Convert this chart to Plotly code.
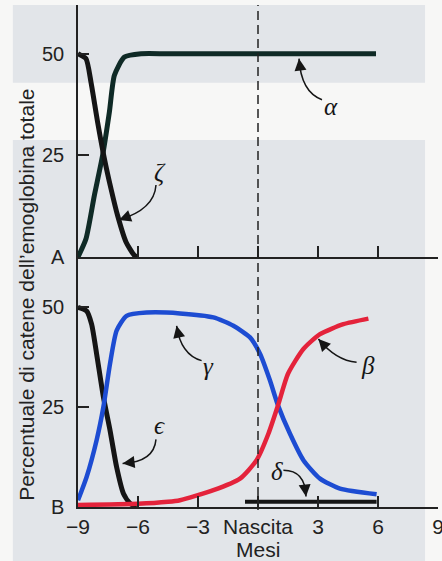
import plotly.graph_objects as go

# ---------------- data ----------------
# Panel A (top)
alpha_months = [-9, -8.6, -8.18, -7.77, -7.43, -7.18, -6.68, -5.85, -4.5, 0, 3, 5.9]
alpha_values = [0, 4.5, 15.2, 25, 35.7, 44.7, 49.2, 50, 50, 50, 50, 50]

zeta_months = [-9, -8.6, -8.35, -8.02, -7.68, -7.35, -7.02, -6.6, -6.18, -6.0]
zeta_values = [50, 48.8, 43, 33.2, 24.2, 16.8, 10.2, 3.7, 0.4, 0]

# Panel B (bottom)
epsilon_months = [-9, -8.57, -8.32, -8.07, -7.73, -7.4, -7.07, -6.73, -6.4, -6.07]
epsilon_values = [49.9, 49, 45.7, 38.3, 27.5, 19.2, 10, 3.4, 0.9, 0]

gamma_months = [-9, -8.57, -8.07, -7.73, -7.4, -7.07, -6.57, -5.57, -3.9, -2.23,
                -1.23, -0.4, 0.1, 0.6, 1.0, 1.6, 2.27, 3.1, 4.1, 5.93]
gamma_values = [1.7, 7.5, 16.7, 25, 35.8, 44.1, 47.8, 48.6, 48.4, 47.4,
                45.3, 42.4, 38.3, 31.6, 25.4, 18.3, 11.7, 7.1, 4.6, 3.2]

beta_months = [-9, -6, -4.5, -3.9, -2.23, -0.9, -0.07, 0.52, 1.0, 1.5, 2.27, 3.1, 4.27, 5.52]
beta_values = [0.5, 0.8, 1.3, 1.7, 4.2, 7.1, 11.7, 18.3, 25.4, 33.3, 39.5, 43.2, 45.7, 47.1]

delta_months = [-0.65, 5.93]
delta_values = [1.3, 1.3]

x_tickvals = [-9, -6, -3, 0, 3, 6, 9]
x_ticktext = ["\u22129", "\u22126", "\u22123", "Nascita", "3", "6", "9"]
y_tickvals = [0, 25, 50]
yA_ticktext = ["A", "25", "50"]
yB_ticktext = ["B", "25", "50"]
BIRTH = 0

y_title = "Percentuale di catene dell\u2019emoglobina totale"
x_title = "Mesi"

# ---------------- styling ----------------
BLACK = "#151515"
ALPHA_C = "#0f2a26"
BLUE = "#1d4cd2"
RED = "#e4233b"
AXC = "#222222"
SANS = "Liberation Sans, Arial, sans-serif"
SERIF = "Liberation Serif, Times New Roman, serif"

fig = go.Figure()

def line(x, y, color, xa, ya, w=4.5):
    fig.add_trace(go.Scatter(x=x, y=y, mode="lines", xaxis=xa, yaxis=ya,
                             line=dict(color=color, width=w, shape="spline", smoothing=0.6),
                             hoverinfo="skip", showlegend=False))

line(alpha_months, alpha_values, ALPHA_C, "x", "y", 5)
line(zeta_months, zeta_values, BLACK, "x", "y", 5)
line(epsilon_months, epsilon_values, BLACK, "x2", "y2", 5)
line(gamma_months, gamma_values, BLUE, "x2", "y2", 4.5)
line(beta_months, beta_values, RED, "x2", "y2", 4.5)
fig.add_trace(go.Scatter(x=delta_months, y=delta_values, mode="lines", xaxis="x2", yaxis="y2",
                         line=dict(color=BLACK, width=4), hoverinfo="skip", showlegend=False))

# ---------------- axes ----------------
common = dict(showline=True, linecolor=AXC, linewidth=1.5, ticks="inside", ticklen=11,
              tickwidth=1.5, tickcolor=AXC, showgrid=False, zeroline=False,
              ticklabeloverflow="allow", automargin=False)
yfont = dict(family=SANS, size=20, color=AXC)
xfont = dict(family=SANS, size=21, color=AXC)
split = 0.498
fig.update_layout(
    width=442, height=561,
    margin=dict(l=78, r=4, t=5, b=54),
    paper_bgcolor="#f7f7f6", plot_bgcolor="rgba(0,0,0,0)",
    xaxis=dict(domain=[0, 1], anchor="y", range=[-9, 9], tickvals=x_tickvals,
               showticklabels=False, **common),
    yaxis=dict(domain=[split, 1], anchor="x", range=[0, 62], tickvals=y_tickvals,
               ticktext=yA_ticktext, ticklabelstandoff=8, tickfont=yfont, **common),
    xaxis2=dict(domain=[0, 1], anchor="y2", range=[-9, 9], tickvals=x_tickvals,
                ticktext=x_ticktext, ticklabelstandoff=0, tickfont=xfont, **common),
    yaxis2=dict(domain=[0, split], anchor="x2", range=[0, 62.5], tickvals=y_tickvals,
                ticktext=yB_ticktext, ticklabelstandoff=8, tickfont=yfont, **common),
)

# ---------------- page background (scanned page look) ----------------
GRAY = "#e2e5e9"
fig.add_shape(type="rect", xref="paper", yref="paper", x0=-0.181, x1=0.964, y0=0.845, y1=1.0,
              fillcolor=GRAY, line_width=0, layer="below")
fig.add_shape(type="rect", xref="paper", yref="paper", x0=-0.181, x1=0.964, y0=-0.11, y1=0.731,
              fillcolor=GRAY, line_width=0, layer="below")

# birth dashed line
fig.add_shape(type="line", xref="x2", yref="paper", x0=BIRTH, x1=BIRTH, y0=-0.006, y1=1.0,
              line=dict(color=AXC, width=1.5, dash="9px,5px"))

# ---------------- curved arrows + greek labels ----------------
def bez(p0, c, p1, t):
    return ((1 - t) ** 2 * p0[0] + 2 * (1 - t) * t * c[0] + t ** 2 * p1[0],
            (1 - t) ** 2 * p0[1] + 2 * (1 - t) * t * c[1] + t ** 2 * p1[1])

labels = [
    # text, xref, yref, label pos, tail, control, tip
    ("\u03b1", "x", "y", (3.65, 37.1), (3.2, 38.7), (2.15, 40.6), (2.05, 48.8)),
    ("\u03b6", "x", "y", (-4.9, 20.7), (-5.1, 17.7), (-5.18, 11.7), (-6.95, 9.1)),
    ("\u03b3", "x2", "y2", (-2.49, 35.1), (-2.82, 36.6), (-3.86, 38.1), (-4.07, 45.3)),
    ("\u03f5", "x2", "y2", (-4.93, 20.4), (-5.1, 16.9), (-5.2, 11.2), (-6.77, 10.9)),
    ("\u03b2", "x2", "y2", (5.52, 35.4), (4.93, 36.2), (3.9, 36.6), (3.02, 42.0)),
    ("\u03b4", "x2", "y2", (0.93, 8.8), (1.27, 9.2), (2.37, 9.2), (2.4, 2.6)),
]
for txt, xr, yr, lp, p0, c, p1 in labels:
    fig.add_annotation(x=lp[0], y=lp[1], xref=xr, yref=yr, text="<i>%s</i>" % txt,
                       showarrow=False, font=dict(family=SERIF, size=25, color=BLACK))
    path = "M %g,%g Q %g,%g %g,%g" % (p0[0], p0[1], c[0], c[1], p1[0], p1[1])
    fig.add_shape(type="path", xref=xr, yref=yr, path=path,
                  line=dict(color=BLACK, width=1.5))
    bx, by = bez(p0, c, p1, 0.8)
    fig.add_annotation(x=p1[0], y=p1[1], xref=xr, yref=yr, ax=bx, ay=by,
                       axref=xr, ayref=yr, text="", showarrow=True,
                       arrowhead=2, arrowsize=1.6, arrowwidth=1.5, arrowcolor=BLACK)

# axis titles
fig.add_annotation(text=y_title, xref="paper", yref="paper", x=-0.1417, y=0.423,
                   textangle=-90, showarrow=False, xanchor="center", yanchor="middle",
                   font=dict(family=SANS, size=21, color=AXC))
fig.add_annotation(text=x_title, xref="x2", yref="paper", x=BIRTH, y=-0.0837,
                   showarrow=False, xanchor="center", yanchor="middle",
                   font=dict(family=SANS, size=21, color=AXC))

fig.write_html("out.html")
